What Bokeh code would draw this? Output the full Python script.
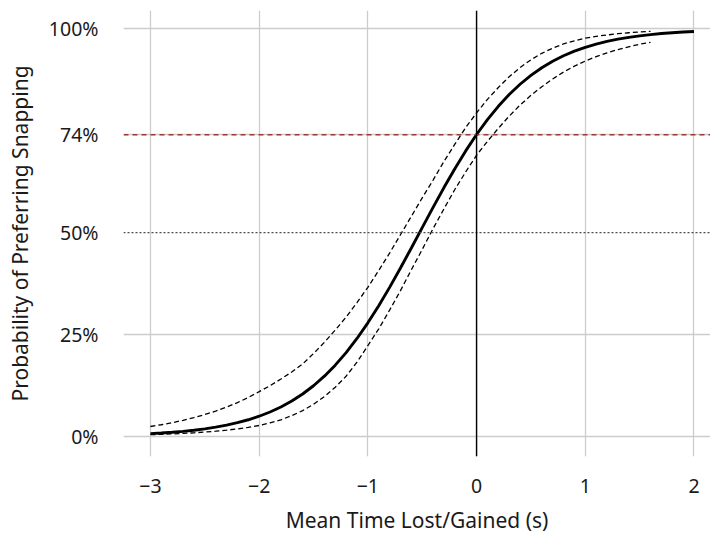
from bokeh.plotting import figure
from bokeh.models import Span, FixedTicker, Range1d, CustomJSTickFormatter
from bokeh.embed import file_html
from bokeh.resources import INLINE

# Fitted curve
x_fit = [-3.0, -2.9, -2.8, -2.7, -2.6, -2.5, -2.4, -2.3, -2.2, -2.1, -2.0, -1.9, -1.8,
         -1.7, -1.6, -1.5, -1.4, -1.3, -1.2, -1.1, -1.0, -0.9, -0.8, -0.7, -0.6, -0.5,
         -0.4, -0.3, -0.2, -0.1, 0.0, 0.1, 0.2, 0.3, 0.4, 0.5, 0.6, 0.7, 0.8, 0.9, 1.0,
         1.1, 1.2, 1.3, 1.4, 1.5, 1.6, 1.7, 1.8, 1.9, 2.0]
p_fit = [0.00703, 0.00858, 0.01046, 0.01275, 0.01552, 0.01889, 0.02298, 0.02795, 0.03389,
         0.04109, 0.04975, 0.06010, 0.07243, 0.08707, 0.10430, 0.12455, 0.14804, 0.17508,
         0.20587, 0.24049, 0.27888, 0.32082, 0.36586, 0.41338, 0.46257, 0.51250, 0.56218,
         0.61064, 0.65701, 0.70057, 0.74082, 0.77730, 0.80998, 0.83889, 0.86410, 0.88588,
         0.90465, 0.92056, 0.93403, 0.94531, 0.95476, 0.96267, 0.96923, 0.97468, 0.97918,
         0.98287, 0.98594, 0.98847, 0.99053, 0.99224, 0.99364]

# Confidence bounds
x_ci = [-3.0, -2.9, -2.8, -2.7, -2.6, -2.5, -2.4, -2.3, -2.2, -2.1, -2.0, -1.9, -1.8,
        -1.7, -1.6, -1.5, -1.4, -1.3, -1.2, -1.1, -1.0, -0.9, -0.8, -0.7, -0.6, -0.5,
        -0.4, -0.3, -0.2, -0.1, 0.0, 0.1, 0.2, 0.3, 0.4, 0.5, 0.6, 0.7, 0.8, 0.9, 1.0,
        1.1, 1.2, 1.3, 1.4, 1.5, 1.6]
p_upper = [0.0246, 0.0289, 0.0339, 0.0397, 0.0465, 0.0539, 0.0624, 0.0721, 0.0832, 0.0958,
           0.110, 0.1246, 0.141, 0.1584, 0.178, 0.2034, 0.231, 0.2611, 0.293, 0.3285,
           0.366, 0.4073, 0.450, 0.495, 0.540, 0.5854, 0.629, 0.6748, 0.717, 0.7577,
           0.794, 0.8271, 0.856, 0.8824, 0.905, 0.9241, 0.940, 0.9526, 0.963, 0.9707,
           0.977, 0.9816, 0.985, 0.9881, 0.9904, 0.9923, 0.9938]
p_lower = [0.0045, 0.00535, 0.0064, 0.00762, 0.0091, 0.01087, 0.0130, 0.01559, 0.0187,
           0.02254, 0.0271, 0.0334, 0.0411, 0.0512, 0.0635, 0.0791, 0.0980, 0.1208, 0.148,
           0.1824, 0.223, 0.2640, 0.310, 0.3578, 0.409, 0.4588, 0.510, 0.5585, 0.606,
           0.6491, 0.690, 0.7241, 0.756, 0.7858, 0.813, 0.8369, 0.858, 0.8771, 0.894,
           0.9084, 0.921, 0.9318, 0.941, 0.9491, 0.956, 0.9622, 0.967]

x_ticks = [-3, -2, -1, 0, 1, 2]
y_ticks = [0.0, 0.25, 0.50, 0.74, 1.0]
y_grid_ticks = [0.0, 0.25, 0.74, 1.0]
threshold = 0.74
chance = 0.50

FONT = "Noto Sans"

p = figure(width=710, height=536, output_backend="svg", toolbar_location=None,
           x_range=Range1d(-3.248, 2.152), y_range=Range1d(-0.049, 1.045),
           min_border_left=123, min_border_right=0, min_border_top=10, min_border_bottom=80)
p.outline_line_color = None
p.background_fill_color = "white"

for ax in (p.xaxis[0], p.yaxis[0]):
    ax.axis_line_color = None
    ax.major_tick_line_color = None
    ax.minor_tick_line_color = None
    ax.major_label_text_font = FONT
    ax.major_label_text_font_size = "19.5px"
    ax.major_label_text_color = "#1a1a1a"
    ax.axis_label_text_font = FONT
    ax.axis_label_text_font_size = "21px"
    ax.axis_label_text_font_style = "normal"
    ax.axis_label_text_color = "#1a1a1a"

p.xaxis.ticker = FixedTicker(ticks=x_ticks)
p.xaxis.formatter = CustomJSTickFormatter(code="return tick < 0 ? '\u2212' + Math.abs(tick) : '' + tick;")
p.xaxis.major_label_standoff = 16
p.xaxis.axis_label = "Mean Time Lost/Gained (s)"
p.xaxis.axis_label_standoff = 10

p.yaxis.ticker = FixedTicker(ticks=y_ticks)
p.yaxis.formatter = CustomJSTickFormatter(code="return Math.round(tick * 100) + '%';")
p.yaxis.major_label_standoff = 19
p.yaxis.axis_label = "Probability of Preferring Snapping"
p.yaxis.axis_label_standoff = 12

p.xgrid.ticker = FixedTicker(ticks=x_ticks)
p.ygrid.ticker = FixedTicker(ticks=y_grid_ticks)
for g in (p.xgrid[0], p.ygrid[0]):
    g.grid_line_color = "#cccccc"
    g.grid_line_width = 1.3

p.add_layout(Span(location=chance, dimension="width", line_color="#4d4d4d",
                  line_width=1.3, line_dash="2 2"))
p.add_layout(Span(location=threshold, dimension="width", line_color="#9c3a33",
                  line_width=1.5, line_dash="5 4"))
p.add_layout(Span(location=0, dimension="height", line_color="black", line_width=1.4))

p.line(x_ci, p_upper, line_color="black", line_width=1.3, line_dash="5 3")
p.line(x_ci, p_lower, line_color="black", line_width=1.3, line_dash="5 3")
p.line(x_fit, p_fit, line_color="black", line_width=2.9)

open("out.html", "w").write(file_html(p, INLINE))
